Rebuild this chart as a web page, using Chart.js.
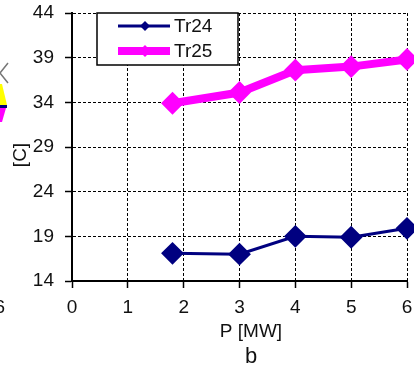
<!DOCTYPE html>
<html><head><meta charset="utf-8">
<script src="https://cdn.jsdelivr.net/npm/chart.js@4"></script>
<style>html,body{margin:0;padding:0;background:#fff;}#wrap{width:414px;height:367px;position:relative;}</style>
</head><body><div id="wrap"><canvas id="c" width="414" height="367"></canvas></div>
<script>
// ---- data ----
const powerMW = [1.8, 3, 4, 5, 6];
const tr24 = [17.1, 17, 19, 18.9, 19.9];
const tr25 = [33.9, 35.1, 37.6, 38, 38.8];
const seriesNames = ['Tr24', 'Tr25'];
const seriesColors = ['#000080', '#FF00FF'];
const yTicks = [14, 19, 24, 29, 34, 39, 44];
const xTicks = [0, 1, 2, 3, 4, 5, 6];
const xTitle = 'P [MW]';
const yTitle = '[C]';
const caption = 'b';
const neighbourTick = '6';

const FONT = '"Liberation Sans", Arial, sans-serif';

const toPts = (ys) => powerMW.map((x, i) => ({x: x, y: ys[i]}));

const legendPlugin = {
  id: 'boxLegend',
  afterDraw(chart) {
    const ctx = chart.ctx;
    ctx.save();
    const bx = 97, by = 13, bw = 141, bh = 52;
    ctx.fillStyle = '#fff';
    ctx.fillRect(bx, by, bw, bh);
    ctx.strokeStyle = '#000';
    ctx.lineWidth = 1.5;
    ctx.strokeRect(bx, by, bw, bh);
    const rows = [26, 51];
    const widths = [3, 8];
    const rads = [5, 6];
    chart.data.datasets.forEach((ds, i) => {
      const y = rows[i];
      ctx.strokeStyle = ds.borderColor;
      ctx.lineWidth = widths[i];
      ctx.beginPath();
      ctx.moveTo(118, y); ctx.lineTo(170, y); ctx.stroke();
      ctx.fillStyle = ds.borderColor;
      const r = rads[i];
      ctx.beginPath();
      ctx.moveTo(145, y - r); ctx.lineTo(145 + r, y); ctx.lineTo(145, y + r); ctx.lineTo(145 - r, y); ctx.closePath();
      ctx.fill();
      ctx.fillStyle = '#111';
      ctx.font = '19px ' + FONT;
      ctx.textAlign = 'left';
      ctx.textBaseline = 'middle';
      ctx.fillText(ds.label, 174, y + 1);
    });
    ctx.restore();
  }
};

const textPlugin = {
  id: 'extraText',
  afterDraw(chart) {
    const ctx = chart.ctx;
    ctx.save();
    ctx.fillStyle = '#111';
    ctx.textAlign = 'center';
    ctx.textBaseline = 'middle';
    ctx.font = '19px ' + FONT;
    ctx.fillText(xTitle, 251, 332);
    ctx.font = '22px ' + FONT;
    ctx.fillText(caption, 251, 357);
    ctx.font = '19px ' + FONT;
    ctx.save();
    ctx.translate(21, 155);
    ctx.rotate(-Math.PI / 2);
    ctx.fillText(yTitle, 0, 0);
    ctx.restore();
    // fragment of neighbouring panel at the left edge
    ctx.textAlign = 'right';
    ctx.fillText(neighbourTick, 5, 308);
    ctx.strokeStyle = '#777';
    ctx.lineWidth = 1.5;
    ctx.beginPath();
    ctx.moveTo(8, 63); ctx.lineTo(0, 73); ctx.lineTo(8, 83); ctx.stroke();
    ctx.fillStyle = '#FFFF00';
    ctx.beginPath();
    ctx.moveTo(0, 84); ctx.lineTo(2, 84); ctx.lineTo(7, 105); ctx.lineTo(0, 105); ctx.closePath(); ctx.fill();
    ctx.fillStyle = '#000080';
    ctx.fillRect(0, 105, 7, 3);
    ctx.fillStyle = '#FF00FF';
    ctx.beginPath();
    ctx.moveTo(0, 108); ctx.lineTo(6, 108); ctx.lineTo(2, 122); ctx.lineTo(0, 122); ctx.closePath(); ctx.fill();
    ctx.restore();
  }
};

new Chart(document.getElementById('c'), {
  type: 'line',
  data: {
    datasets: [
      {label: seriesNames[0], data: toPts(tr24), borderColor: seriesColors[0], backgroundColor: seriesColors[0],
       borderWidth: 3, pointStyle: 'rectRot', pointRadius: 10, pointBorderWidth: 2, tension: 0, clip: false},
      {label: seriesNames[1], data: toPts(tr25), borderColor: seriesColors[1], backgroundColor: seriesColors[1],
       borderWidth: 8, pointStyle: 'rectRot', pointRadius: 10, pointBorderWidth: 2, tension: 0, clip: false}
    ]
  },
  options: {
    responsive: false,
    devicePixelRatio: 1,
    animation: false,
    layout: {autoPadding: false, padding: {left: 0, right: 7, top: 13, bottom: 0}},
    plugins: {legend: {display: false}, tooltip: {enabled: false}},
    scales: {
      x: {
        type: 'linear', min: xTicks[0], max: xTicks[xTicks.length - 1],
        afterBuildTicks: (s) => { s.ticks = xTicks.map(v => ({value: v})); },
        afterFit: (s) => { s.height = 86; s.paddingLeft = 0; s.paddingRight = 0; },
        grid: {color: '#000', lineWidth: 1, tickLength: 7, tickColor: '#000', tickWidth: 1.5},
        border: {display: true, color: '#000', width: 2, dash: [3, 2]},
        ticks: {color: '#111', font: {family: FONT, size: 19}, padding: 8, maxRotation: 0}
      },
      y: {
        type: 'linear', min: yTicks[0], max: yTicks[yTicks.length - 1],
        afterBuildTicks: (s) => { s.ticks = yTicks.map(v => ({value: v})); },
        afterFit: (s) => { s.width = 72; s.paddingTop = 0; s.paddingBottom = 0; },
        grid: {color: '#000', lineWidth: 1, tickLength: 7, tickColor: '#000', tickWidth: 1.5},
        border: {display: true, color: '#000', width: 2, dash: [3, 2]},
        ticks: {color: '#111', font: {family: FONT, size: 19}, padding: 11}
      }
    }
  },
  plugins: [legendPlugin, textPlugin]
});
</script>
</body></html>
